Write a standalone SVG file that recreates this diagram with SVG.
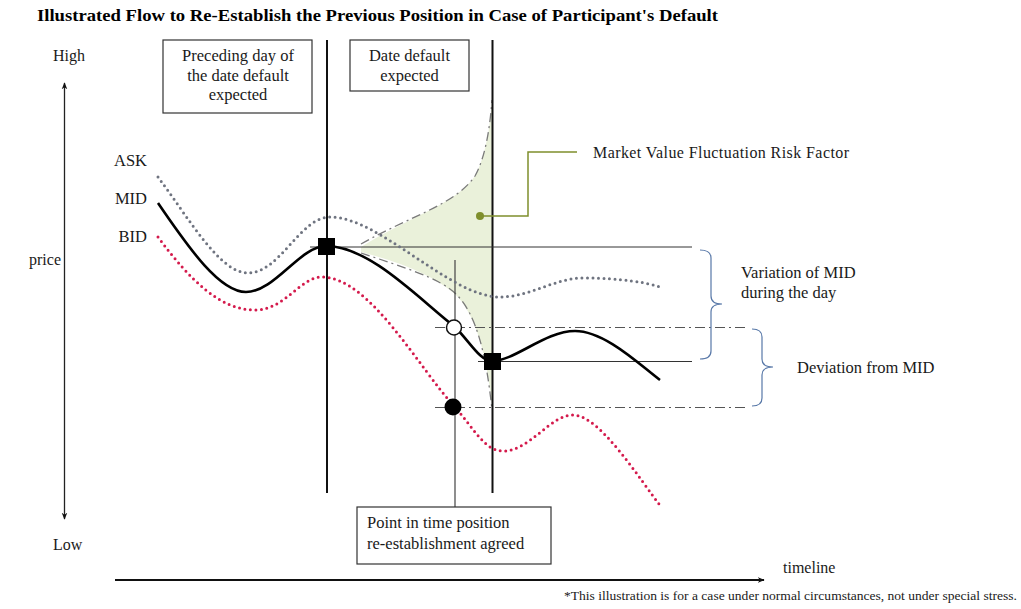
<svg xmlns="http://www.w3.org/2000/svg" width="1021" height="609" viewBox="0 0 1021 609">
<defs>
<style>
text{font-family:"Liberation Serif","Times New Roman",serif;fill:#1a1a1a;font-size:16px}
.title{font-weight:bold;font-size:17.5px;fill:#000}
.bx{font-size:16.5px}
.lb{font-size:16.5px}
.note{font-size:13px}
.box{fill:#fff;stroke:#333;stroke-width:1.2}
.vline{stroke:#111;stroke-width:2}
.thin{stroke:#333;stroke-width:1;fill:none}
.dd{stroke:#555;stroke-width:1;stroke-dasharray:10 4 2 4;fill:none}
.fanb{stroke:#7a7a7a;stroke-width:1.3;stroke-dasharray:9 4 2 4;fill:none}
.ask{stroke:#6f7480;stroke-width:3;stroke-dasharray:0 5.5;stroke-linecap:round;fill:none}
.bid{stroke:#d41a4c;stroke-width:3;stroke-dasharray:0 5.5;stroke-linecap:round;fill:none}
.mid{stroke:#000;stroke-width:2.6;fill:none}
.brace{stroke:#5878a8;stroke-width:1.2;fill:none}
.axis{stroke:#222;stroke-width:1.3;fill:none}
</style>
<marker id="ah" viewBox="0 0 10 10" refX="9" refY="5" markerWidth="7" markerHeight="7" orient="auto-start-reverse" markerUnits="userSpaceOnUse">
<path d="M0,1 L10,5 L0,9 L3,5 Z" fill="#111"/>
</marker>
</defs>
<rect width="1021" height="609" fill="#fff"/>

<text class="title" x="37" y="21" textLength="681" lengthAdjust="spacingAndGlyphs">Illustrated Flow to Re-Establish the Previous Position in Case of Participant's Default</text>

<g id="fan">
<path d="M361,247 C410,216 455,205 475,176 C486,156 490,126 492,100 L492,405 C487,360 478,320 458,297 C438,277 400,262 361,252 Z" fill="#eaf1da"/>
<path class="fanb" d="M361,244 C410,216 455,205 475,176 C486,156 490,126 492,100"/>
<path class="fanb" d="M361,253 C400,266 440,278 456,294 C476,314 486,352 492,410"/>
</g>

<g id="connectors">
<line class="axis" x1="64.5" y1="519" x2="64.5" y2="83" marker-start="url(#ah)" marker-end="url(#ah)"/>
<line x1="115" y1="580" x2="764" y2="580" stroke="#111" stroke-width="2" marker-end="url(#ah)"/>
<line class="vline" x1="327" y1="40" x2="327" y2="493"/>
<line class="vline" x1="492.5" y1="40" x2="492.5" y2="493"/>
<line x1="455" y1="260" x2="455" y2="507" stroke="#444" stroke-width="1.2"/>
<line class="thin" x1="310" y1="247" x2="692" y2="247"/>
<line class="thin" x1="478" y1="361.5" x2="692" y2="361.5"/>
<line class="dd" x1="435" y1="327.5" x2="746" y2="327.5"/>
<line class="dd" x1="435" y1="407.5" x2="748" y2="407.5"/>
<path class="brace" d="M700,250 Q711,250 711,258 L711,296 Q711,304 722,304 Q711,304 711,312 L711,351 Q711,359 700,359"/>
<path class="brace" d="M752,329 Q762,329 762,337 L762,359 Q762,367 773,367 Q762,367 762,375 L762,398 Q762,406 752,406"/>
<polyline points="577,152 528,152 528,216 480,216" fill="none" stroke="#7f8f2c" stroke-width="1.5"/>
<circle cx="480" cy="216" r="4" fill="#7f8f2c"/>
</g>

<g id="curves">
<path class="ask" d="M158,177 C190,220 220,273 248,273 C280,273 300,217 330,217 C380,217 450,297 500,297 C530,297 555,278 583,278 C620,278 650,283 660,287"/>
<path class="bid" d="M158,237 C190,280 220,310 255,310 C285,310 300,277 322,277 C370,277 420,370 455,407 C475,430 485,451 503,451 C530,451 550,415 573,415 C600,415 640,480 662,508"/>
<path class="mid" d="M158,203 C190,250 220,292 246,292 C275,292 300,246 326,246 C370,246 420,300 455,327 C470,342 480,361 492,361 C515,361 545,331 575,331 C605,331 640,365 660,380"/>
</g>

<g id="markers">
<rect x="318" y="238" width="17" height="17" fill="#000"/>
<rect x="484" y="353" width="17" height="17" fill="#000"/>
<circle cx="454" cy="327.5" r="7.5" fill="#fff" stroke="#111" stroke-width="1.5"/>
<circle cx="453" cy="407" r="8.5" fill="#000"/>
</g>

<g id="node-preceding">
<rect class="box" x="163" y="40" width="149" height="73"/>
<text class="bx" x="238" y="61" text-anchor="middle">Preceding day of</text>
<text class="bx" x="238" y="81" text-anchor="middle">the date default</text>
<text class="bx" x="238" y="100" text-anchor="middle">expected</text>
</g>

<g id="node-default">
<rect class="box" x="350" y="40" width="119" height="51"/>
<text class="bx" x="409.5" y="61" text-anchor="middle">Date default</text>
<text class="bx" x="409.5" y="81" text-anchor="middle">expected</text>
</g>

<g id="node-agreed">
<rect class="box" x="357" y="507" width="194" height="57"/>
<text class="bx" x="367" y="528">Point in time position</text>
<text class="bx" x="367" y="549">re-establishment  agreed</text>
</g>

<g id="labels">
<text x="53" y="61">High</text>
<text x="53" y="550">Low</text>
<text x="29" y="265">price</text>
<text class="lb" x="147" y="166" text-anchor="end">ASK</text>
<text class="lb" x="147" y="204" text-anchor="end">MID</text>
<text class="lb" x="147" y="242" text-anchor="end">BID</text>
<text x="593" y="158" textLength="256" lengthAdjust="spacing">Market Value Fluctuation Risk Factor</text>
<text class="lb" x="741" y="278">Variation  of MID</text>
<text class="lb" x="741" y="298">during  the  day</text>
<text class="lb" x="797" y="373">Deviation  from MID</text>
<text x="783" y="573">timeline</text>
<text class="note" x="564" y="600" textLength="453" lengthAdjust="spacingAndGlyphs">*This illustration is for a case under normal circumstances, not under special stress.</text>
</g>
</svg>
